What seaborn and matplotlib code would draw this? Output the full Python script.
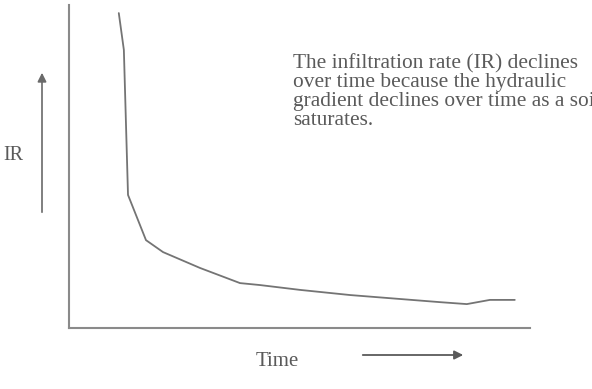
import matplotlib
matplotlib.use("Agg")
import matplotlib.pyplot as plt
import seaborn as sns
import pandas as pd

# values (arbitrary units, axes run 0..100)
time = [10.8, 11.9, 12.8, 16.7, 20.4, 28.4, 37.1, 41.4, 50.1, 61.0, 80.5, 86.3, 91.3, 96.7]
ir = [97.5, 86.1, 41.2, 27.2, 23.5, 18.6, 13.9, 13.3, 11.8, 10.2, 8.0, 7.4, 8.7, 8.7]
note = ("The infiltration rate (IR) declines\n"
        "over time because the hydraulic\n"
        "gradient declines over time as a soil\n"
        "saturates.")

sns.set_style("white")
plt.rcParams['font.family'] = ['Liberation Serif', 'DejaVu Serif']

df = pd.DataFrame({'Time': time, 'IR': ir})

fig = plt.figure(figsize=(5.92, 3.89), dpi=100)
W, H = 592, 389
ax = fig.add_axes([69 / W, (H - 328) / H, (530 - 69) / W, (328 - 5) / H])
sns.lineplot(data=df, x='Time', y='IR', ax=ax, color='#747474', linewidth=1.3, sort=False)
ax.set_xlim(0, 100)
ax.set_ylim(0, 100)
ax.set_xticks([])
ax.set_yticks([])
ax.set_xlabel('')
ax.set_ylabel('')
for s in ['top', 'right']:
    ax.spines[s].set_visible(False)
for s in ['left', 'bottom']:
    ax.spines[s].set_color('#8a8a8a')
    ax.spines[s].set_linewidth(1.5)

gray = '#5a5a5a'
# axis names and direction arrows
fig.text(3 / W, 1 - 155 / H, 'IR', fontsize=14.5, color=gray, va='center', ha='left')
fig.text(277 / W, 1 - 361 / H, 'Time', fontsize=15, color=gray, va='center', ha='center')
fig.patches.append(matplotlib.patches.FancyArrowPatch(
    (42 / W, 1 - 215 / H), (42 / W, 1 - 70 / H), transform=fig.transFigure,
    arrowstyle='-|>', mutation_scale=13, color='#6a6a6a', linewidth=1.2))
fig.patches.append(matplotlib.patches.FancyArrowPatch(
    (360 / W, 1 - 355 / H), (466 / W, 1 - 355 / H), transform=fig.transFigure,
    arrowstyle='-|>', mutation_scale=13, color='#5a5a5a', linewidth=1.3))

fig.text(293 / W, 1 - 54 / H, note, fontsize=15.4, color=gray, va='top', ha='left',
         linespacing=0.98)

fig.savefig('out.png', dpi=100)
